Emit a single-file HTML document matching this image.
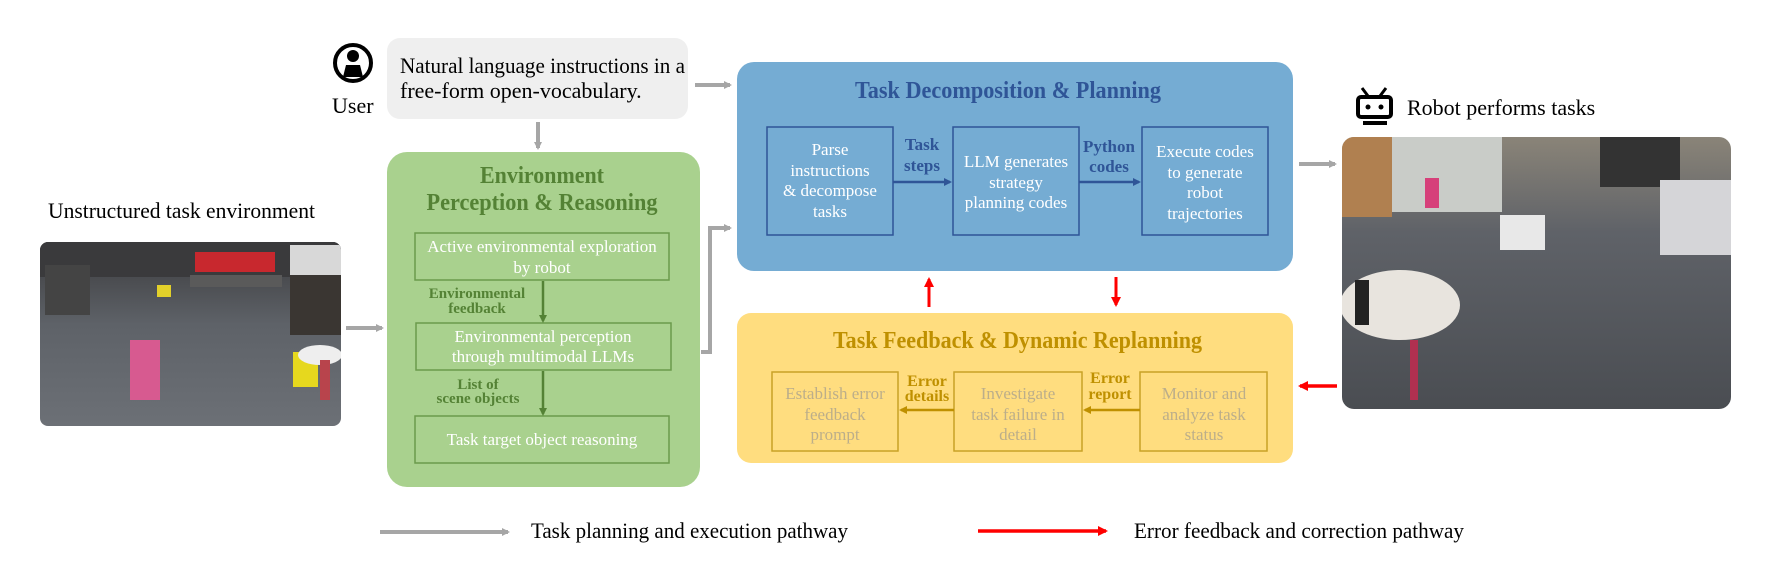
<!DOCTYPE html>
<html><head><meta charset="utf-8"><style>
html,body{margin:0;padding:0;background:#fff;}
svg{display:block;}
text{font-family:"Liberation Serif",serif;}
</style></head><body>
<svg width="1765" height="586" viewBox="0 0 1765 586" xmlns="http://www.w3.org/2000/svg">
<defs>
<marker id="ag" markerWidth="8" markerHeight="8" refX="6" refY="4" orient="auto" markerUnits="userSpaceOnUse"><path d="M0,0 L8,4 L0,8 Z" fill="#a6a6a6"/></marker>
<marker id="ar" markerWidth="10" markerHeight="10" refX="8" refY="5" orient="auto" markerUnits="userSpaceOnUse"><path d="M0,0 L10,5 L0,10 Z" fill="#ff0000"/></marker>
<marker id="agr" markerWidth="8" markerHeight="8" refX="6" refY="4" orient="auto" markerUnits="userSpaceOnUse"><path d="M0,0 L8,4 L0,8 Z" fill="#548235"/></marker>
<marker id="ab" markerWidth="8" markerHeight="8" refX="6" refY="4" orient="auto" markerUnits="userSpaceOnUse"><path d="M0,0 L8,4 L0,8 Z" fill="#2f5597"/></marker>
<marker id="ay" markerWidth="8" markerHeight="8" refX="6" refY="4" orient="auto" markerUnits="userSpaceOnUse"><path d="M0,0 L8,4 L0,8 Z" fill="#bf9000"/></marker>
<linearGradient id="floor" x1="0" y1="0" x2="0" y2="1"><stop offset="0" stop-color="#3b3b3d"/><stop offset="0.45" stop-color="#5e6268"/><stop offset="1" stop-color="#6c7076"/></linearGradient>
<linearGradient id="floor2" x1="0" y1="0" x2="0" y2="1"><stop offset="0" stop-color="#8a8478"/><stop offset="0.35" stop-color="#5f6268"/><stop offset="1" stop-color="#4a4d52"/></linearGradient>
<clipPath id="cl"><rect x="40" y="242" width="301" height="184" rx="8"/></clipPath>
<clipPath id="cr"><rect x="1342" y="137" width="389" height="272" rx="12"/></clipPath>
</defs>

<text x="48" y="218" font-size="22" textLength="267" lengthAdjust="spacingAndGlyphs">Unstructured task environment</text>
<g clip-path="url(#cl)">
<rect x="40" y="242" width="301" height="184" fill="url(#floor)"/>
<rect x="40" y="242" width="301" height="35" fill="#3a3a3c"/>
<rect x="195" y="252" width="80" height="20" fill="#c8282e"/>
<rect x="190" y="275" width="92" height="12" fill="#5a5a5a"/>
<rect x="45" y="265" width="45" height="50" fill="#444"/>
<rect x="290" y="245" width="51" height="30" fill="#d8d8d8"/>
<rect x="290" y="275" width="51" height="60" fill="#3a3632"/>
<rect x="157" y="285" width="14" height="12" fill="#e2d02a"/>
<rect x="130" y="340" width="30" height="60" fill="#d75a90"/>
<rect x="293" y="352" width="25" height="35" fill="#e6d81e"/>
<ellipse cx="320" cy="355" rx="22" ry="10" fill="#eee"/>
<rect x="320" y="360" width="10" height="40" fill="#b8444c"/>
</g>
<line x1="346" y1="328" x2="382" y2="328" stroke="#a6a6a6" stroke-width="4" marker-end="url(#ag)"/>

<circle cx="353" cy="63" r="18" fill="none" stroke="#000" stroke-width="4"/>
<circle cx="353" cy="56" r="6" fill="#000"/>
<path d="M343,77 L346,65 L360,65 L363,77 Z" fill="#000"/>
<text x="332" y="113" font-size="22">User</text>
<rect x="387" y="38" width="301" height="81" rx="13" fill="#efefef"/>
<text x="400" y="73" font-size="22" textLength="285" lengthAdjust="spacingAndGlyphs">Natural language instructions in a</text>
<text x="400" y="98" font-size="22">free-form open-vocabulary.</text>
<line x1="538" y1="122" x2="538" y2="148" stroke="#a6a6a6" stroke-width="4" marker-end="url(#ag)"/>
<line x1="695" y1="85" x2="730" y2="85" stroke="#a6a6a6" stroke-width="4" marker-end="url(#ag)"/>

<rect x="387" y="152" width="313" height="335" rx="20" fill="#a9d18e"/>
<text x="542" y="183" font-size="24" font-weight="bold" fill="#548235" text-anchor="middle" textLength="124" lengthAdjust="spacingAndGlyphs">Environment</text>
<text x="542" y="210" font-size="24" font-weight="bold" fill="#548235" text-anchor="middle" textLength="231" lengthAdjust="spacingAndGlyphs">Perception &amp; Reasoning</text>
<g fill="none" stroke="#6b9a4c" stroke-width="1.5">
<rect x="415" y="233" width="254" height="47"/>
<rect x="416" y="323" width="255" height="47"/>
<rect x="415" y="416" width="254" height="47"/>
</g>
<g font-size="17" fill="#fff" text-anchor="middle">
<text x="542" y="252">Active environmental exploration</text>
<text x="542" y="273">by robot</text>
<text x="543" y="342">Environmental perception</text>
<text x="543" y="362">through multimodal LLMs</text>
<text x="542" y="445">Task target object reasoning</text>
</g>
<line x1="543" y1="281" x2="543" y2="321" stroke="#548235" stroke-width="2.5" marker-end="url(#agr)"/>
<line x1="543" y1="371" x2="543" y2="414" stroke="#548235" stroke-width="2.5" marker-end="url(#agr)"/>
<g font-size="15" font-weight="bold" fill="#548235" text-anchor="middle">
<text x="477" y="298">Environmental</text>
<text x="477" y="313">feedback</text>
<text x="478" y="389">List of</text>
<text x="478" y="403">scene objects</text>
</g>
<polyline points="701,352 710,352 710,228 730,228" fill="none" stroke="#a6a6a6" stroke-width="4" marker-end="url(#ag)"/>

<rect x="737" y="62" width="556" height="209" rx="17" fill="#75acd3"/>
<text x="855" y="98" font-size="24" font-weight="bold" fill="#2f5597" textLength="306" lengthAdjust="spacingAndGlyphs">Task Decomposition &amp; Planning</text>
<g fill="none" stroke="#2f5597" stroke-width="1.5">
<rect x="767" y="127" width="126" height="108"/>
<rect x="953" y="127" width="126" height="108"/>
<rect x="1142" y="127" width="126" height="108"/>
</g>
<g font-size="17" fill="#fff" text-anchor="middle">
<text x="830" y="155">Parse</text><text x="830" y="176">instructions</text><text x="830" y="196">&amp; decompose</text><text x="830" y="217">tasks</text>
<text x="1016" y="167">LLM generates</text><text x="1016" y="188">strategy</text><text x="1016" y="208">planning codes</text>
<text x="1205" y="157">Execute codes</text><text x="1205" y="178">to generate</text><text x="1205" y="198">robot</text><text x="1205" y="219">trajectories</text>
</g>
<line x1="893" y1="182" x2="950" y2="182" stroke="#2f5597" stroke-width="2.5" marker-end="url(#ab)"/>
<line x1="1079" y1="182" x2="1139" y2="182" stroke="#2f5597" stroke-width="2.5" marker-end="url(#ab)"/>
<g font-size="17" font-weight="bold" fill="#2f5597" text-anchor="middle">
<text x="922" y="150">Task</text><text x="922" y="171">steps</text>
<text x="1109" y="152">Python</text><text x="1109" y="172">codes</text>
</g>

<line x1="929" y1="307" x2="929" y2="279" stroke="#ff0000" stroke-width="3" marker-end="url(#ar)"/>
<line x1="1116" y1="277" x2="1116" y2="305" stroke="#ff0000" stroke-width="3" marker-end="url(#ar)"/>

<rect x="737" y="313" width="556" height="150" rx="14" fill="#ffdd7f"/>
<text x="833" y="348" font-size="24" font-weight="bold" fill="#bf9000" textLength="369" lengthAdjust="spacingAndGlyphs">Task Feedback &amp; Dynamic Replanning</text>
<g fill="none" stroke="#c9a227" stroke-width="1.5">
<rect x="772" y="372" width="126" height="79"/>
<rect x="954" y="372" width="128" height="79"/>
<rect x="1140" y="372" width="127" height="79"/>
</g>
<g font-size="17" fill="#bcae8a" text-anchor="middle">
<text x="835" y="399">Establish error</text><text x="835" y="420">feedback</text><text x="835" y="440">prompt</text>
<text x="1018" y="399">Investigate</text><text x="1018" y="420">task failure in</text><text x="1018" y="440">detail</text>
<text x="1204" y="399">Monitor and</text><text x="1204" y="420">analyze task</text><text x="1204" y="440">status</text>
</g>
<line x1="954" y1="410" x2="901" y2="410" stroke="#bf9000" stroke-width="2.5" marker-end="url(#ay)"/>
<line x1="1140" y1="410" x2="1085" y2="410" stroke="#bf9000" stroke-width="2.5" marker-end="url(#ay)"/>
<g font-size="16" font-weight="bold" fill="#bf9000" text-anchor="middle">
<text x="927" y="386">Error</text><text x="927" y="401">details</text>
<text x="1110" y="383">Error</text><text x="1110" y="399">report</text>
</g>

<path d="M1362,88 L1368,96 M1386,88 L1380,96" stroke="#000" stroke-width="3"/>
<rect x="1358" y="97" width="33" height="20" rx="3" fill="none" stroke="#000" stroke-width="4"/>
<circle cx="1368" cy="107" r="2.5" fill="#000"/><circle cx="1381" cy="107" r="2.5" fill="#000"/>
<rect x="1363" y="121" width="24" height="4" fill="#000"/>
<text x="1407" y="115" font-size="22">Robot performs tasks</text>
<line x1="1299" y1="164" x2="1335" y2="164" stroke="#a6a6a6" stroke-width="4" marker-end="url(#ag)"/>
<g clip-path="url(#cr)">
<rect x="1342" y="137" width="389" height="272" fill="url(#floor2)"/>
<rect x="1342" y="137" width="50" height="80" fill="#b08050"/>
<rect x="1392" y="137" width="110" height="75" fill="#c9ccc8"/>
<rect x="1600" y="137" width="80" height="50" fill="#333"/>
<rect x="1660" y="180" width="71" height="75" fill="#d5d5d8"/>
<rect x="1425" y="178" width="14" height="30" fill="#d6407a"/>
<rect x="1500" y="215" width="45" height="35" fill="#e8e8e8"/>
<ellipse cx="1400" cy="305" rx="60" ry="35" fill="#e8e4de"/>
<rect x="1355" y="280" width="14" height="45" fill="#222"/>
<rect x="1410" y="340" width="8" height="60" fill="#b03050"/>
</g>
<line x1="1337" y1="386" x2="1300" y2="386" stroke="#ff0000" stroke-width="3.5" marker-end="url(#ar)"/>

<line x1="380" y1="532" x2="508" y2="532" stroke="#a6a6a6" stroke-width="4" marker-end="url(#ag)"/>
<text x="531" y="538" font-size="22" textLength="317" lengthAdjust="spacingAndGlyphs">Task planning and execution pathway</text>
<line x1="978" y1="531" x2="1106" y2="531" stroke="#ff0000" stroke-width="3.5" marker-end="url(#ar)"/>
<text x="1134" y="538" font-size="22" textLength="330" lengthAdjust="spacingAndGlyphs">Error feedback and correction pathway</text>
</svg>
</body></html>
